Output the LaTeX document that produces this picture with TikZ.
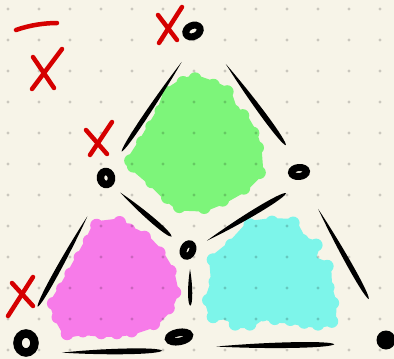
\documentclass[tikz,border=0pt]{standalone}
\usetikzlibrary{calc,shapes.geometric}
\definecolor{bg}{HTML}{F7F4E8}
\definecolor{gblob}{HTML}{7DF57A}
\definecolor{mblob}{HTML}{F77BE9}
\definecolor{cblob}{HTML}{7DF5EA}
\definecolor{xred}{HTML}{D50000}
\newcommand\brushstroke[3]{%
  \fill (#1) .. controls ($(#1)!0.45!(#2)!#3!90:(#2)$) and ($(#1)!0.97!(#2)!#3!90:(#2)$) .. (#2)
    .. controls ($(#1)!0.97!(#2)!#3!270:(#2)$) and ($(#1)!0.45!(#2)!#3!270:(#2)$) .. (#1) -- cycle;}
\tikzset{
  ring/.style={ellipse, draw=black, fill=bg, inner sep=0pt},
  xmark/.style={draw=xred, line width=4.5pt, line cap=round},
  blobpart/.style={line width=8pt, line join=round}
}
\begin{document}
\begin{tikzpicture}[x=1pt,y=-1pt]
\fill[bg] (0,0) rectangle (394,359);
\useasboundingbox (0,0) rectangle (394,359);
% blobs
\begin{scope}[shift={(195,145)},scale=0.92,shift={(-195,-145)}]
  \filldraw[gblob,blobpart] (195,73) -- (215,80) -- (230,87) -- (237,108) -- (247,113) -- (258,132) -- (263,148) -- (265,175) -- (248,192) -- (225,205) -- (205,213) -- (178,212) -- (165,202) -- (148,185) -- (128,168) -- (125,162) -- (138,142) -- (148,125) -- (158,108) -- (165,88) -- (182,77) -- cycle;
  \foreach \p in {(195,73),(215,80),(230,87),(237,108),(247,113),(258,132),(263,148),(265,175),(248,192),(225,205),(205,213),(178,212),(165,202),(148,185),(128,168),(125,162),(138,142),(148,125),(158,108),(165,88),(182,77)}
    \fill[gblob] \p circle (7);
\end{scope}
\begin{scope}[shift={(115,285)},scale=0.92,shift={(-115,-285)}]
  \filldraw[mblob,blobpart] (95,220) -- (120,217) -- (130,225) -- (147,233) -- (163,250) -- (175,270) -- (180,293) -- (173,310) -- (157,327) -- (133,335) -- (117,337) -- (100,337) -- (80,335) -- (63,338) -- (53,320) -- (48,305) -- (58,289) -- (67,273) -- (77,255) -- (87,237) -- cycle;
  \foreach \p in {(95,220),(120,217),(130,225),(147,233),(163,250),(175,270),(180,293),(173,310),(157,327),(133,335),(117,337),(100,337),(80,335),(63,338),(53,320),(48,305),(58,289),(67,273),(77,255),(87,237)}
    \fill[mblob] \p circle (7);
\end{scope}
\begin{scope}[shift={(272,280)},scale=0.92,shift={(-272,-280)}]
  \filldraw[cblob,blobpart] (248,220) -- (272,217) -- (295,218) -- (305,237) -- (320,242) -- (315,258) -- (332,265) -- (333,288) -- (338,305) -- (337,325) -- (322,328) -- (307,326) -- (292,323) -- (275,322) -- (262,318) -- (248,328) -- (232,328) -- (225,318) -- (208,320) -- (203,302) -- (210,282) -- (208,258) -- (228,242) -- cycle;
  \foreach \p in {(248,220),(272,217),(295,218),(305,237),(320,242),(315,258),(332,265),(333,288),(338,305),(337,325),(322,328),(307,326),(292,323),(275,322),(262,318),(248,328),(232,328),(225,318),(208,320),(203,302),(210,282),(208,258),(228,242)}
    \fill[cblob] \p circle (7);
\end{scope}
% dot grid
\foreach \i in {0,...,12} \foreach \j in {0,...,11}
  \fill[black,opacity=0.18] (8+31*\i,9+31*\j) circle (1.6);
% nodes
\node[ring, line width=7pt, minimum width=15pt, minimum height=11pt, rotate=25] (T) at (193,31) {};
\node[ring, line width=7.5pt, minimum width=11pt, minimum height=13pt, rotate=10] (L) at (106,178) {};
\node[ring, line width=7pt, minimum width=15pt, minimum height=9pt, rotate=5] (R) at (299,172) {};
\node[ring, line width=7pt, minimum width=13pt, minimum height=9pt, rotate=65] (C) at (188,250) {};
\node[ring, line width=8.5pt, minimum width=17pt, minimum height=19pt] (BL) at (26,343) {};
\node[ring, line width=7.5pt, minimum width=21pt, minimum height=9pt, rotate=10] (BM) at (179,337) {};
\node[circle, fill=black, inner sep=0pt, minimum size=19pt] (BR) at (386,340) {};
% stroke ends
\coordinate (e1a) at ($(T)!0.21!(L)+(7,0)$);
\coordinate (e1b) at ($(T)!0.82!(L)$);
\coordinate (e2a) at ($(T)!0.234!(R)+(8,0)$);
\coordinate (e2b) at ($(T)!0.81!(R)+(7,0)$);
\coordinate (e3a) at ($(L)!0.175!(C)+(0,2)$);
\coordinate (e3b) at ($(L)!0.8!(C)+(0,1)$);
\coordinate (e4a) at ($(R)!0.117!(C)+(0,12)$);
\coordinate (e4b) at ($(R)!0.83!(C)+(0,4)$);
\coordinate (e5a) at ($(L)!0.232!(BL)$);
\coordinate (e5b) at ($(L)!0.78!(BL)+(-6,0)$);
\coordinate (e6a) at ($(C)!0.22!(BM)+(4,0)$);
\coordinate (e6b) at ($(C)!0.64!(BM)+(8,0)$);
\coordinate (e7a) at ($(R)!0.22!(BR)$);
\coordinate (e7b) at ($(R)!0.756!(BR)+(4,0)$);
\coordinate (e8a) at ($(BL)!0.235!(BM)+(0,11)$);
\coordinate (e8b) at ($(BL)!0.889!(BM)+(0,13)$);
\coordinate (e9a) at ($(BM)!0.18!(BR)+(0,9)$);
\coordinate (e9b) at ($(BM)!0.75!(BR)+(0,5)$);
\brushstroke{e1a}{e1b}{3.2pt}
\brushstroke{e2a}{e2b}{3.6pt}
\brushstroke{e3a}{e3b}{3.6pt}
\brushstroke{e4b}{e4a}{3.8pt}
\brushstroke{e5a}{e5b}{3.4pt}
\brushstroke{e6a}{e6b}{2.8pt}
\brushstroke{e7a}{e7b}{3.4pt}
\brushstroke{e8a}{e8b}{3.8pt}
\brushstroke{e9a}{e9b}{3.8pt}
% red marks
\draw[xmark] (182,7) -- (159,43);
\draw[xmark] (158,15) -- (177,40);
\draw[xmark] (16,30) .. controls (30,25) and (45,23) .. (57,23);
\draw[xmark] (62,49) -- (32,89);
\draw[xmark] (33,57) -- (54,88);
\draw[xmark] (112,122) -- (90,155);
\draw[xmark] (86,130) -- (107,154);
\draw[xmark] (33,277) -- (8,316);
\draw[xmark] (12,283) -- (33,306);
\end{tikzpicture}
\end{document}
